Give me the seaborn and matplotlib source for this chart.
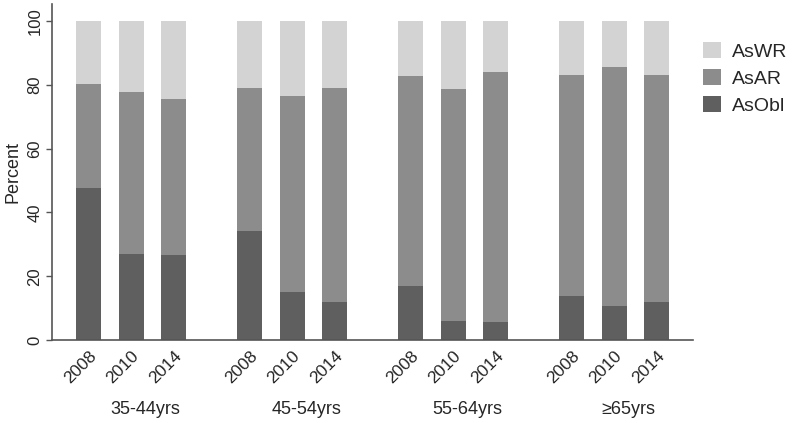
import numpy as np
import pandas as pd
import matplotlib
matplotlib.use("Agg")
import matplotlib.pyplot as plt
import seaborn as sns

# data (percent)
age_groups = ["35-44yrs", "45-54yrs", "55-64yrs", "\u226565yrs"]
years = ["2008", "2010", "2014"]
as_obl = [47.7, 27.0, 26.5, 34.3, 14.9, 11.8, 16.9, 6.1, 5.6, 13.8, 10.6, 11.9]
as_ar = [32.7, 50.8, 49.0, 44.7, 61.5, 67.3, 65.9, 72.6, 78.5, 69.3, 75.0, 71.1]
as_wr = [19.6, 22.2, 24.5, 21.0, 23.6, 20.9, 17.2, 21.3, 15.9, 16.9, 14.4, 17.0]

colors = {"AsWR": "#d3d3d3", "AsAR": "#8c8c8c", "AsObl": "#5f5f5f"}

sns.set_style("white")
plt.rcParams["font.family"] = ["Liberation Sans", "DejaVu Sans"]

# bar positions: 3 bars per group with a gap between groups
group_step = 3.79
pos = [g * group_step + i for g in range(len(age_groups)) for i in range(len(years))]

df = pd.DataFrame({
    "x": pos,
    "year": years * len(age_groups),
    "AsObl": as_obl,
    "AsAR": as_ar,
    "AsWR": as_wr,
})
df["top_ar"] = df["AsObl"] + df["AsAR"]
df["top_wr"] = df["top_ar"] + df["AsWR"]

fig = plt.figure(figsize=(8, 4.23), dpi=100)
ax = fig.add_axes([52 / 800, 1 - 340 / 423, (693 - 52) / 800, 336.5 / 423])

# stacked look: draw cumulative tops from tallest to shortest
for col, name in [("top_wr", "AsWR"), ("top_ar", "AsAR"), ("AsObl", "AsObl")]:
    sns.barplot(data=df, x="x", y=col, native_scale=True, width=0.59,
                color=colors[name], saturation=1, linewidth=0, label=name, ax=ax)

if ax.get_legend() is not None:
    ax.get_legend().remove()

ax.set_xlim(-0.87, pos[-1] + 0.85)
ax.set_ylim(0, 105.5)
ax.set_xticks(pos)
ax.set_xticklabels(df["year"], rotation=45, ha="right", rotation_mode="anchor", fontsize=12.5)
ax.set_yticks([0, 20, 40, 60, 80, 100])
ax.set_yticklabels(["0", "20", "40", "60", "80", "100"], rotation=90, va="center", fontsize=12)
ax.set_xlabel("")
ax.set_ylabel("Percent", fontsize=13, labelpad=4)

ax.tick_params(axis="x", length=0, pad=6)
ax.tick_params(axis="y", length=4, width=1, color="#555555", left=True, pad=3)
for side in ["top", "right"]:
    ax.spines[side].set_visible(False)
for side in ["left", "bottom"]:
    ax.spines[side].set_color("#555555")
    ax.spines[side].set_linewidth(1.2)

# age group labels under the year ticks
for g, name in enumerate(age_groups):
    ax.text(g * group_step + 1 + 0.33, -0.208, name, transform=ax.get_xaxis_transform(),
            ha="center", va="center", fontsize=13)

handles, labels = ax.get_legend_handles_labels()
order = ["AsWR", "AsAR", "AsObl"]
hmap = dict(zip(labels, handles))
fig.legend([hmap[k] for k in order], order, loc="upper left",
           bbox_to_anchor=(703 / 800, 1 - 42 / 423), frameon=False, fontsize=14,
           handlelength=0.9, handleheight=0.9, handletextpad=0.6,
           labelspacing=0.42, borderpad=0, borderaxespad=0)

fig.savefig("out.png", dpi=100)
